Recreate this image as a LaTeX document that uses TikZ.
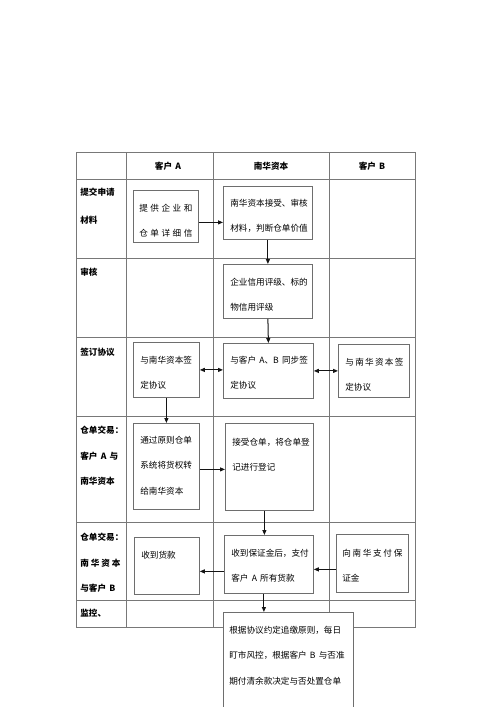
\documentclass[tikz,border=0pt]{standalone}
\usepackage{fontspec}
\setmainfont{Noto Sans CJK SC}
\usetikzlibrary{arrows.meta}

\newcommand{\wgap}{\hspace{3.2pt}}

\tikzset{every picture/.style={line width=0.75pt}}
\tikzset{
  gridline/.style={draw={rgb,255:red,120;green,120;blue,120}, line width=0.8pt},
  procbox/.style={draw={rgb,255:red,110;green,110;blue,110}, fill=white, line width=0.8pt, anchor=north west, inner sep=0pt},
  flow/.style={draw={rgb,255:red,20;green,20;blue,20}, line width=1pt, -{Triangle[length=5pt,width=4pt]}},
  flowboth/.style={draw={rgb,255:red,20;green,20;blue,20}, line width=1pt, {Triangle[length=5pt,width=4pt]}-{Triangle[length=5pt,width=4pt]}},
  txt/.style={anchor=north west, inner sep=0pt, align=left, font=\fontsize{8.6}{25.5}\selectfont},
  lbl/.style={anchor=north west, inner sep=0pt, align=left, font=\bfseries\fontsize{8.6}{25.5}\selectfont},
  head/.style={inner sep=0pt, font=\bfseries\fontsize{8.6}{10}\selectfont}
}

\begin{document}
\begin{tikzpicture}[x=1pt,y=1pt,yscale=-1,xscale=1]
        \useasboundingbox (0,0) rectangle (500,707);
        %Table frame
        \draw [gridline] (76,152) rectangle (415,627);
        \draw [gridline] (126,152) -- (126,627);
        \draw [gridline] (213,152) -- (213,627);
        \draw [gridline] (329,152) -- (329,627);
        \draw [gridline] (76,179) -- (415,179);
        \draw [gridline] (76,258) -- (415,258);
        \draw [gridline] (76,337) -- (415,337);
        \draw [gridline] (76,416) -- (415,416);
        \draw [gridline] (76,522) -- (415,522);
        \draw [gridline] (76,600) -- (415,600);

        % Header
        \node [head] (hA) at (168,166) {客户\wgap A};
        \node [head] (hN) at (271,166) {南华资本};
        \node [head] (hB) at (372,166) {客户\wgap B};

        % Row labels
        \node [lbl] (r1) at (80,187.7) {提交申请\\[2.5pt]材料};
        \node [lbl] (r2) at (80,267.7) {审核};
        \node [lbl] (r3) at (80,347.7) {签订协议};
        \node [lbl] (r4) at (80,425.7) {仓单交易：\\客户\wgap A\wgap 与\\南华资本};
        \node [lbl] (r5) at (80,532.7) {仓单交易：\\\makebox[40pt][s]{南 华 资 本}\\与客户\wgap B};
        \node [lbl] (r6) at (80,608.7) {监控、};

        %Shape: Rectangle
        \node [procbox, minimum width=65, minimum height=52] (a1) at (133,190) {};
        \node [procbox, minimum width=89, minimum height=53] (n1) at (223,186) {};
        \node [procbox, minimum width=89, minimum height=54] (n2) at (223,264) {};
        \node [procbox, minimum width=66, minimum height=55] (a3) at (133,342) {};
        \node [procbox, minimum width=90, minimum height=55] (n3) at (223,343) {};
        \node [procbox, minimum width=71, minimum height=53] (b3) at (338,344) {};
        \node [procbox, minimum width=66, minimum height=86] (a4) at (133,423) {};
        \node [procbox, minimum width=88, minimum height=87] (n4) at (225,423) {};
        \node [procbox, minimum width=65, minimum height=57] (a5) at (134,537) {};
        \node [procbox, minimum width=89, minimum height=58] (n5) at (224,535) {};
        \node [procbox, minimum width=72, minimum height=58] (b5) at (336,534) {};
        %Shape: open box, runs off the page
        \node [procbox, draw=none, minimum width=130, minimum height=95] (n6) at (223,612) {};
        \draw [procbox] (n6.south west) -- (n6.north west) -- (n6.north east) -- (n6.south east);

        %Straight Lines
        \draw [flow] ([yshift=6pt]a1.east) -- ([yshift=6pt]a1.east -| n1.west);
        \draw [flow] (n1.south) -- (n2.north);
        \draw [flow] (n2.south) -- (n3.north);
        \draw [flowboth] (a3.east) -- (a3.east -| n3.west);
        \draw [flowboth] (n3.east) -- (n3.east -| b3.west);
        \draw [flow] (a3.south) -- (a3.south |- a4.north);
        \draw [flow] ([yshift=3pt]a4.east) -- ([yshift=3pt]a4.east -| n4.west);
        \draw [flow] ([xshift=-5pt]n4.south) -- ([xshift=-5pt]n4.south |- n5.north);
        \draw [flow] ([yshift=6pt]b5.west) -- ([yshift=6pt]b5.west -| n5.east);
        \draw [flow] ([yshift=7pt]n5.west) -- ([yshift=7pt]n5.west -| a5.east);
        \draw [flow] ([xshift=-5pt]n5.south) -- ([xshift=-5pt]n5.south |- n6.north);

        % Text Node
        \node [txt] (a1t) at (139,203.7) {\makebox[53pt][s]{提 供 企 业 和}\\\makebox[53pt][s]{仓 单 详 细 信}};
        \node [txt] (n1t) at (230,198.7) {南华资本接受、审核\\材料，判断仓单价值};
        \node [txt] (n2t) at (230,277.7) {企业信用评级、标的\\物信用评级};
        \node [txt] (a3t) at (140,355.7) {与南华资本签\\定协议};
        \node [txt] (n3t) at (230,355.7) {与客户\wgap A、B\wgap 同步签\\定协议};
        \node [txt] (b3t) at (345,357.7) {\makebox[58pt][s]{与 南 华 资 本 签}\\定协议};
        \node [txt] (a4t) at (140,435.7) {通过原则仓单\\系统将货权转\\给南华资本};
        \node [txt] (n4t) at (232,437.7) {接受仓单，将仓单登\\记进行登记};
        \node [txt] (a5t) at (141,550.7) {收到货款};
        \node [txt] (n5t) at (231,548.7) {收到保证金后，支付\\客户\wgap A\wgap 所有货款};
        \node [txt] (b5t) at (342,548.7) {\makebox[60pt][s]{向 南 华 支 付 保}\\证金};
        \node [txt] (n6t) at (229,625.7) {根据协议约定追缴原则，每日\\盯市风控，根据客户\wgap B\wgap 与否准\\期付清余款决定与否处置仓单};
\end{tikzpicture}
\end{document}
